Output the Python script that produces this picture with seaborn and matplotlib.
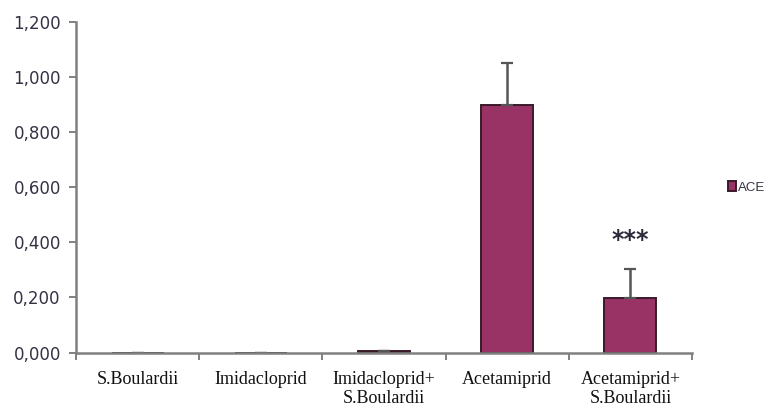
import matplotlib
matplotlib.use("Agg")
import matplotlib.pyplot as plt
import seaborn as sns
import numpy as np
import pandas as pd
from matplotlib.ticker import FuncFormatter, FixedLocator

groups = ["S.Boulardii", "Imidacloprid", "Imidacloprid+\nS.Boulardii",
          "Acetamiprid", "Acetamiprid+\nS.Boulardii"]
ace = [0.0, 0.0, 0.007, 0.898, 0.197]
ace_err = [0.0, 0.0, 0.0, 0.153, 0.107]
signif = ["", "", "", "", "***"]

df = pd.DataFrame({"group": groups, "ACE": ace})

sns.set_style("white")
plt.rcParams["font.family"] = ["DejaVu Sans"]

fig = plt.figure(figsize=(7.77, 4.08), dpi=100)
ax = fig.add_axes([0.098, 0.136, 0.7925, 0.81])

bar_color = "#993366"
sns.barplot(data=df, x="group", y="ACE", color=bar_color, width=0.42,
            edgecolor="#3a1a2a", linewidth=1.4, errorbar=None, ax=ax,
            label="ACE", saturation=1)

x = np.arange(len(groups))
ax.errorbar(x, ace, yerr=[np.zeros(len(ace)), ace_err], fmt="none",
            ecolor="#555555", elinewidth=1.8, capsize=4, capthick=1.6)

# significance stars above the error bar
for xi, v, e, s in zip(x, ace, ace_err, signif):
    if s:
        ax.text(xi, v + e + 0.08, s, ha="center", va="baseline",
                fontsize=17, fontweight="bold", color="#2a2a3a")

ax.set_ylim(0, 1.2)
ax.set_xlim(-0.5, len(groups) - 0.5)
ax.yaxis.set_major_locator(FixedLocator(np.arange(0, 1.21, 0.2)))
ax.yaxis.set_major_formatter(FuncFormatter(lambda v, p: f"{v:.3f}".replace(".", ",")))
ax.set_xlabel("")
ax.set_ylabel("")

for side in ["top", "right"]:
    ax.spines[side].set_visible(False)
for side in ["left", "bottom"]:
    ax.spines[side].set_color("#808080")
    ax.spines[side].set_linewidth(1.8)

ax.tick_params(axis="y", which="major", direction="out", length=5, width=1.4,
               color="#808080", labelsize=12, labelcolor="#333344", left=True,
               pad=6)
ax.tick_params(axis="x", which="major", length=0, pad=13)
ax.set_xticks(np.arange(-0.5, len(groups), 1.0), minor=True)
ax.tick_params(axis="x", which="minor", direction="out", length=5, width=1.4,
               color="#808080", bottom=True)
for lbl in ax.get_xticklabels():
    lbl.set_fontfamily(["Liberation Serif", "DejaVu Serif"])
    lbl.set_fontsize(13)
    lbl.set_color("#111111")
    lbl.set_linespacing(1.2)

ax.legend(loc="center left", bbox_to_anchor=(1.04, 0.5), frameon=False,
          handlelength=0.6, handleheight=0.8, handletextpad=0.15,
          labelcolor="#333344", prop={"family": "Liberation Sans", "size": 9.5})

fig.savefig("out.png", dpi=100)
